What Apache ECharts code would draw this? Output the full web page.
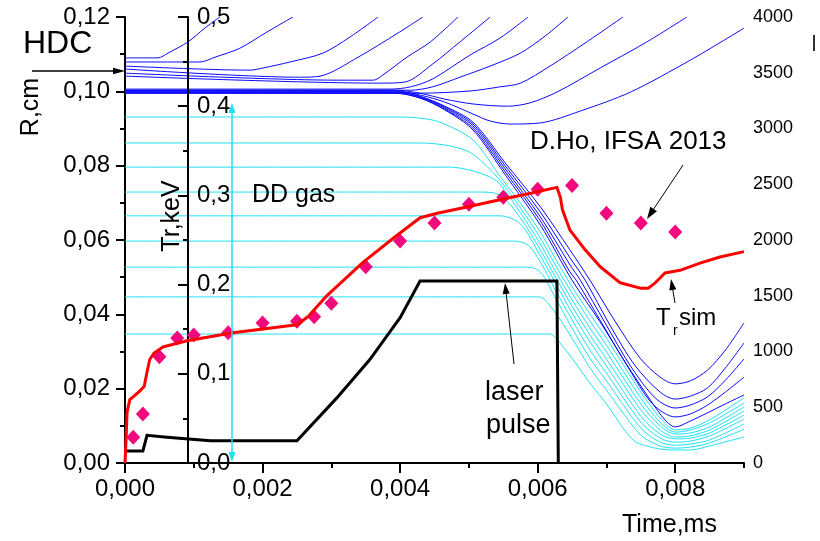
<!DOCTYPE html>
<html>
<head>
<meta charset="utf-8">
<script src="https://cdn.jsdelivr.net/npm/echarts@6/dist/echarts.min.js"></script>
<style>
  html, body { margin: 0; padding: 0; background: #fff; }
  #chart { width: 820px; height: 541px; }
</style>
</head>
<body>
<div id="chart"></div>
<script>
// ---- axis ticks ----
const timeTicks = [0, 0.002, 0.004, 0.006, 0.008];
const timeMinorTicks = [0.001, 0.003, 0.005, 0.007, 0.009];
const timeRange = [0, 0.009];
const radiusTicks = [0, 0.02, 0.04, 0.06, 0.08, 0.10, 0.12];
const trTicks = [0, 0.1, 0.2, 0.3, 0.4, 0.5];
const rightTicks = [0, 500, 1000, 1500, 2000, 2500, 3000, 3500, 4000];

// ---- cell trajectories R(t): [time, ms ; radius, cm] ----
// DD gas cells
const gas1 = [[0,0.0931],[0.00396,0.0931],[0.00429,0.0928],[0.00458,0.0917],[0.00506,0.0869],[0.00545,0.0772],[0.00575,0.0699],[0.00604,0.0621],[0.00625,0.0552],[0.0065,0.0474],[0.00676,0.0401],[0.007,0.0336],[0.0075,0.0191],[0.00778,0.0121],[0.008,0.0089],[0.00822,0.0094],[0.0085,0.0116],[0.009,0.0175]];
const gas2 = [[0,0.0861],[0.00429,0.0861],[0.00473,0.0853],[0.00506,0.0831],[0.00545,0.0761],[0.00575,0.0686],[0.00604,0.0605],[0.00625,0.0535],[0.0065,0.0457],[0.00676,0.0382],[0.007,0.0317],[0.0075,0.0175],[0.00778,0.011],[0.008,0.0083],[0.00822,0.0089],[0.0085,0.0108],[0.009,0.0161]];
const gas3 = [[0,0.0796],[0.00473,0.0796],[0.00506,0.0786],[0.00531,0.0769],[0.00545,0.0751],[0.00575,0.0673],[0.00604,0.0589],[0.00625,0.0519],[0.0065,0.0439],[0.00676,0.0363],[0.007,0.0299],[0.0075,0.0159],[0.00778,0.01],[0.008,0.0078],[0.00822,0.0081],[0.0085,0.0097],[0.009,0.0151]];
const gas4 = [[0,0.0729],[0.00516,0.0729],[0.00545,0.0721],[0.00575,0.0659],[0.00604,0.0573],[0.00625,0.0503],[0.0065,0.0422],[0.00676,0.0344],[0.007,0.028],[0.0075,0.0143],[0.00778,0.0089],[0.008,0.007],[0.00822,0.0073],[0.0085,0.0089],[0.009,0.014]];
const gas5 = [[0,0.0665],[0.00545,0.0665],[0.00575,0.0643],[0.00604,0.0557],[0.00625,0.0487],[0.0065,0.0404],[0.00676,0.0326],[0.007,0.0261],[0.0075,0.0126],[0.00778,0.0078],[0.008,0.0065],[0.00822,0.0067],[0.0085,0.0081],[0.009,0.0129]];
const gas6 = [[0,0.0597],[0.00567,0.0597],[0.00586,0.0586],[0.00604,0.0541],[0.00625,0.0468],[0.0065,0.0385],[0.00676,0.0304],[0.007,0.0242],[0.0075,0.011],[0.00778,0.0067],[0.008,0.0056],[0.00822,0.0059],[0.0085,0.0073],[0.009,0.0118]];
const gas7 = [[0,0.0527],[0.00586,0.0527],[0.00604,0.0514],[0.00625,0.0447],[0.0065,0.0363],[0.00676,0.0282],[0.007,0.0221],[0.0075,0.0094],[0.00778,0.0056],[0.008,0.0048],[0.00822,0.0051],[0.0085,0.0062],[0.009,0.0105]];
const gas8 = [[0,0.0447],[0.00601,0.0447],[0.00625,0.0406],[0.0065,0.0336],[0.00676,0.0256],[0.007,0.0196],[0.0075,0.0075],[0.00778,0.0046],[0.008,0.004],[0.00822,0.0043],[0.0085,0.0054],[0.009,0.0091]];
const gas9 = [[0,0.0347],[0.00618,0.0347],[0.00625,0.0339],[0.0065,0.0282],[0.00676,0.0215],[0.007,0.0159],[0.00739,0.0062],[0.00771,0.004],[0.008,0.0035],[0.00822,0.0035],[0.0085,0.0046],[0.009,0.007]];

// imploding shell cells
const shell1 = [[0,0.1001],[0.004,0.0998],[0.00429,0.0987],[0.00465,0.096],[0.00506,0.0917],[0.00553,0.0807],[0.00604,0.0689],[0.00647,0.0573],[0.00676,0.0492],[0.00713,0.038],[0.00749,0.0282],[0.00778,0.0231],[0.008,0.0213],[0.00822,0.0221],[0.00847,0.025],[0.00873,0.0304],[0.009,0.0377]];
const shell2 = [[0,0.0998],[0.00397,0.0998],[0.00429,0.0985],[0.00465,0.0958],[0.00506,0.0912],[0.00553,0.0799],[0.00604,0.0675],[0.00647,0.0552],[0.00669,0.0492],[0.00705,0.0371],[0.00742,0.0261],[0.00778,0.0191],[0.008,0.0172],[0.00822,0.018],[0.00847,0.0202],[0.00873,0.0256],[0.009,0.0323]];
const shell3 = [[0,0.0998],[0.00397,0.0998],[0.00429,0.0985],[0.00465,0.0955],[0.00506,0.0907],[0.00553,0.0791],[0.00604,0.0662],[0.00647,0.0533],[0.00662,0.0492],[0.00698,0.0377],[0.00735,0.0261],[0.00771,0.0175],[0.008,0.0148],[0.00822,0.0156],[0.00847,0.0178],[0.00873,0.0223],[0.009,0.028]];
const shell4 = [[0,0.0995],[0.00393,0.0995],[0.00429,0.0982],[0.00465,0.0952],[0.00506,0.0901],[0.00553,0.0783],[0.00604,0.0651],[0.00647,0.0514],[0.00656,0.0492],[0.00695,0.0371],[0.00732,0.0256],[0.00767,0.0159],[0.008,0.0124],[0.00822,0.0132],[0.00847,0.0156],[0.00873,0.0191],[0.009,0.0231]];
const shell5 = [[0,0.0995],[0.00393,0.0995],[0.00429,0.0982],[0.00465,0.095],[0.00506,0.0896],[0.00553,0.0775],[0.00604,0.064],[0.0065,0.0492],[0.00691,0.0379],[0.00727,0.0272],[0.00764,0.0169],[0.00785,0.0116],[0.008,0.0097],[0.00822,0.0113],[0.00847,0.0135],[0.00873,0.0159],[0.009,0.0183]];

// HDC cells that turn back outward
const rebound1 = [[0,0.1003],[0.00393,0.1003],[0.00429,0.0995],[0.00465,0.0979],[0.00506,0.0966],[0.00556,0.096],[0.00589,0.0969],[0.00628,0.0998],[0.00691,0.1063],[0.00756,0.113],[0.00817,0.12]];
const rebound2 = [[0,0.1001],[0.00393,0.1001],[0.00429,0.099],[0.00465,0.0971],[0.00506,0.0939],[0.00531,0.092],[0.0056,0.0912],[0.00604,0.0915],[0.00662,0.0947],[0.00735,0.0998],[0.00822,0.1084],[0.009,0.117]];

// ablated HDC cells
const ablated1 = [[0,0.109],[0.00048,0.109],[0.000625,0.1103],[0.000916,0.1133],[0.00116,0.117],[0.00138,0.12]];
const ablated2 = [[0,0.1079],[0.00109,0.1079],[0.00131,0.1092],[0.00167,0.1116],[0.00204,0.1157],[0.00244,0.12]];
const ablated3 = [[0,0.1068],[0.00182,0.1057],[0.00201,0.1063],[0.0024,0.1079],[0.00288,0.1103],[0.00327,0.1146],[0.00368,0.12]];
const ablated4 = [[0,0.106],[0.00255,0.1038],[0.00284,0.1041],[0.00339,0.1092],[0.00397,0.1157],[0.00433,0.12]];
const ablated5 = [[0,0.1049],[0.00313,0.103],[0.00361,0.103],[0.00375,0.1044],[0.0041,0.1092],[0.00444,0.1133],[0.00484,0.12]];
const ablated6 = [[0,0.1041],[0.00371,0.1022],[0.00407,0.1025],[0.00447,0.1073],[0.00487,0.1133],[0.00531,0.12]];
const ablated7 = [[0,0.1006],[0.00385,0.1006],[0.00415,0.1012],[0.00447,0.1033],[0.00502,0.1098],[0.00545,0.1143],[0.00586,0.12]];
const ablated8 = [[0,0.1003],[0.00415,0.1003],[0.00447,0.1012],[0.00487,0.1038],[0.00531,0.1068],[0.00575,0.1103],[0.00611,0.1149],[0.00644,0.12]];
const ablated9 = [[0,0.0998],[0.00429,0.0995],[0.00502,0.1001],[0.00545,0.1012],[0.00575,0.1022],[0.00618,0.1068],[0.00669,0.113],[0.00724,0.12]];

// ---- radiation temperature, keV ----
const trSim = [[0,0],[0.000015,0.026],[0.00003,0.057],[0.00007,0.071],[0.00013,0.075],[0.00022,0.081],[0.00028,0.086],[0.00032,0.102],[0.00036,0.116],[0.00042,0.123],[0.00055,0.13],[0.0009,0.137],[0.00157,0.146],[0.0025,0.155],[0.00266,0.164],[0.00294,0.188],[0.00346,0.225],[0.0039,0.252],[0.00429,0.275],[0.00454,0.28],[0.00497,0.287],[0.0055,0.296],[0.00593,0.303],[0.00628,0.309],[0.00633,0.298],[0.00636,0.284],[0.00647,0.261],[0.00669,0.239],[0.00691,0.22],[0.0072,0.202],[0.00749,0.196],[0.00761,0.196],[0.00771,0.202],[0.00785,0.213],[0.00807,0.216],[0.00836,0.224],[0.00865,0.231],[0.009,0.237]];
const trHo = [[0.00012,0.029],[0.00026,0.055],[0.0005,0.119],[0.00076,0.14],[0.001,0.1435],[0.0015,0.146],[0.002,0.157],[0.0025,0.159],[0.00275,0.164],[0.003,0.179],[0.0035,0.22],[0.004,0.249],[0.0045,0.269],[0.005,0.29],[0.0055,0.298],[0.006,0.307],[0.0065,0.311],[0.007,0.28],[0.0075,0.269],[0.008,0.259]];
const laserPulse = [[0,0.0135],[0.00026,0.0135],[0.00032,0.031],[0.00061,0.029],[0.00124,0.025],[0.0025,0.025],[0.00308,0.073],[0.00356,0.116],[0.004,0.163],[0.00429,0.204],[0.00628,0.204],[0.0063,0]];

const gasCells = [gas1, gas2, gas3, gas4, gas5, gas6, gas7, gas8, gas9];
const shellCells = [shell1, shell2, shell3, shell4, shell5, rebound1, rebound2,
  ablated1, ablated2, ablated3, ablated4, ablated5, ablated6, ablated7, ablated8, ablated9];

const FONT = '"Liberation Sans", Arial, sans-serif';
const CYAN = '#1ee2f2';
const BLUE = '#0a0aff';

function cellSeries(data, color, z) {
  return {
    type: 'line', xAxisIndex: 0, yAxisIndex: 0, data: data,
    symbol: 'none', smooth: 0.3,
    lineStyle: { color: color, width: 1 }, z: z, silent: true
  };
}

const series = [];
gasCells.forEach(d => series.push(cellSeries(d, CYAN, 2)));
shellCells.forEach(d => series.push(cellSeries(d, BLUE, 3)));
series.push({
  type: 'line', xAxisIndex: 0, yAxisIndex: 1, data: laserPulse, symbol: 'none',
  lineStyle: { color: '#000', width: 3, join: 'miter' }, z: 5, silent: true
});
series.push({
  type: 'scatter', xAxisIndex: 0, yAxisIndex: 1, data: trHo, symbol: 'diamond',
  symbolSize: [14, 15], itemStyle: { color: '#f2087c', opacity: 1 }, z: 6, silent: true
});
series.push({
  type: 'line', xAxisIndex: 0, yAxisIndex: 1, data: trSim, symbol: 'none',
  lineStyle: { color: '#ff0000', width: 3, join: 'round' }, z: 7, silent: true
});

// ---- annotations ----
function arrowHead(tx, ty, fx, fy, len, half, color) {
  const dx = tx - fx, dy = ty - fy, L = Math.hypot(dx, dy);
  const ux = dx / L, uy = dy / L, px = -uy, py = ux;
  const bx = tx - ux * len, by = ty - uy * len;
  return { type: 'polygon', z: 100, silent: true,
    shape: { points: [[tx, ty], [bx + px * half, by + py * half], [bx - px * half, by - py * half]] },
    style: { fill: color } };
}
function arrow(x1, y1, x2, y2, opt) {
  const o = Object.assign({ color: '#000', width: 1, len: 11, half: 3.5, both: false }, opt || {});
  const dx = x2 - x1, dy = y2 - y1, L = Math.hypot(dx, dy);
  const ux = dx / L, uy = dy / L;
  const s = o.both ? o.len * 0.8 : 0;
  const els = [{ type: 'line', z: 100, silent: true,
    shape: { x1: x1 + ux * s, y1: y1 + uy * s, x2: x2 - ux * o.len * 0.8, y2: y2 - uy * o.len * 0.8 },
    style: { stroke: o.color, lineWidth: o.width } }];
  els.push(arrowHead(x2, y2, x1, y1, o.len, o.half, o.color));
  if (o.both) els.push(arrowHead(x1, y1, x2, y2, o.len, o.half, o.color));
  return els;
}
function label(text, x, y, size, extra) {
  return Object.assign({ type: 'text', x: x, y: y, z: 100, silent: true,
    style: { text: text, fill: '#000', font: size + 'px ' + FONT,
      align: 'left', verticalAlign: 'middle', textAlign: 'left', textVerticalAlign: 'middle' } }, extra || {});
}
function centered(text, x, y, size, rotation) {
  return { type: 'text', x: x, y: y, rotation: rotation, z: 100, silent: true,
    style: { text: text, fill: '#000', font: size + 'px ' + FONT,
      align: 'center', verticalAlign: 'middle', textAlign: 'center', textVerticalAlign: 'middle' } };
}

const graphics = [].concat(
  [label('HDC', 23, 44, 32)],
  arrow(32, 71, 125, 71, { width: 1.5, len: 12, half: 3.2 }),
  [centered('R,cm', 31, 107, 25, Math.PI / 2)],
  [centered('Tr,keV', 172, 216, 25, Math.PI / 2)],
  [label('DD gas', 252, 195, 25)],
  arrow(232, 462, 232, 103, { color: CYAN, width: 1.5, len: 10, half: 3.5, both: true }),
  [label('D.Ho, IFSA 2013', 530, 142, 26)],
  arrow(683, 165, 647, 219, { len: 12, half: 4 }),
  [label('laser', 485, 393, 27), label('pulse', 486, 426, 27)],
  arrow(514, 364, 505, 283, { len: 11, half: 3.5 }),
  [label('T', 656, 318, 24), label('r', 673, 331, 14), label('sim', 679, 318, 24)],
  arrow(675, 303, 671, 279, { len: 11, half: 3.5 }),
  [label('Time,ms', 622, 525, 25)],
  [{ type: 'rect', z: 100, silent: true, shape: { x: 813, y: 35, width: 2, height: 16 }, style: { fill: '#333' } }]
);

const tickLine = { color: '#000', width: 2 };
const chart = echarts.init(document.getElementById('chart'), null, { renderer: 'canvas' });
chart.setOption({
  animation: false,
  backgroundColor: '#fff',
  grid: { left: 125, right: 76, top: 17, bottom: 78, containLabel: false, outerBoundsMode: 'none' },
  xAxis: [{
    type: 'value', position: 'bottom', min: timeRange[0], max: timeRange[1],
    axisLine: { show: true, onZero: false, lineStyle: tickLine },
    axisTick: { show: true, customValues: timeTicks, length: 10, lineStyle: tickLine },
    axisLabel: { customValues: timeTicks, formatter: v => v.toFixed(3).replace('.', ','),
      fontSize: 24, fontFamily: FONT, color: '#000', margin: 14, hideOverlap: false },
    splitLine: { show: false }
  }, {
    type: 'value', position: 'bottom', min: timeRange[0], max: timeRange[1],
    axisLine: { show: false, onZero: false },
    axisTick: { show: true, customValues: timeMinorTicks, length: 5, lineStyle: tickLine },
    axisLabel: { show: false },
    splitLine: { show: false }
  }],
  yAxis: [{
    type: 'value', position: 'left', min: radiusTicks[0], max: radiusTicks[radiusTicks.length - 1],
    interval: radiusTicks[1] - radiusTicks[0],
    axisLine: { show: true, onZero: false, lineStyle: tickLine },
    axisTick: { show: true, length: 9, lineStyle: tickLine },
    minorTick: { show: true, splitNumber: 2, length: 5, lineStyle: tickLine },
    axisLabel: { formatter: v => v.toFixed(2).replace('.', ','), fontSize: 24, fontFamily: FONT,
      color: '#000', margin: 15, showMinLabel: true, showMaxLabel: true, hideOverlap: false },
    splitLine: { show: false }
  }, {
    type: 'value', position: 'left', offset: -63, z: 4,
    min: trTicks[0], max: trTicks[trTicks.length - 1], interval: trTicks[1] - trTicks[0],
    axisLine: { show: true, onZero: false, lineStyle: tickLine },
    axisTick: { show: true, inside: false, length: 10, lineStyle: tickLine },
    minorTick: { show: true, splitNumber: 2, length: 5, lineStyle: tickLine },
    axisLabel: { inside: true, formatter: v => v.toFixed(1).replace('.', ','), fontSize: 24,
      fontFamily: FONT, color: '#000', margin: 9, showMinLabel: true, showMaxLabel: true, hideOverlap: false },
    splitLine: { show: false }
  }, {
    type: 'value', position: 'right',
    min: rightTicks[0], max: rightTicks[rightTicks.length - 1], interval: rightTicks[1] - rightTicks[0],
    axisLine: { show: false, onZero: false },
    axisTick: { show: false },
    axisLabel: { formatter: v => String(Math.round(v)), fontSize: 18, fontFamily: FONT, color: '#000', margin: 9,
      showMinLabel: true, showMaxLabel: true, hideOverlap: false },
    splitLine: { show: false }
  }],
  series: series,
  graphic: { elements: graphics }
});
</script>
</body>
</html>
